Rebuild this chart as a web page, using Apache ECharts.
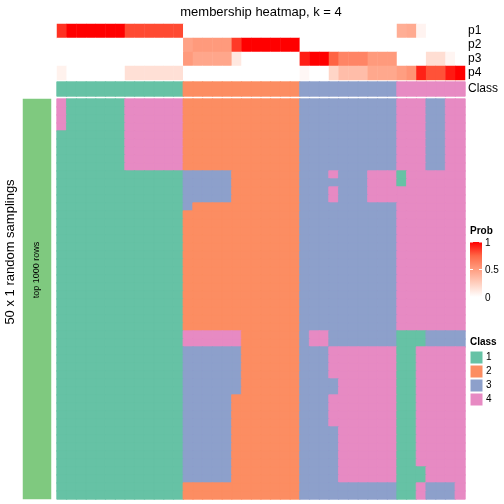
<!DOCTYPE html>
<html><head><meta charset="utf-8">
<script src="https://cdn.jsdelivr.net/npm/echarts@6/dist/echarts.min.js"></script>
<style>html,body{margin:0;padding:0;background:#fff}#c{width:504px;height:504px}</style>
</head><body><div id="c"></div>
<script>
// ---- data ----
const probRows = ['p1', 'p2', 'p3', 'p4'];
const p1 = [0.88,1,1,1,1,1,1,0.82,0.82,0.82,0.82,0.82,0.82, 0,0,0,0,0,0,0,0,0,0,0,0, 0,0,0,0,0,0,0,0,0,0, 0.42,0.44,0.06,0,0,0,0];
const p2 = [0,0,0,0,0,0,0,0,0,0,0,0,0, 0.48,0.52,0.52,0.52,0.52,0.86,1,1,1,1,1,1, 0,0,0,0,0,0,0,0,0,0, 0,0,0,0,0,0,0];
const p3 = [0,0,0,0,0,0,0,0,0,0,0,0,0, 0.52,0.46,0.46,0.46,0.46,0.12,0,0,0,0,0,0, 0.93,1,1,0.76,0.62,0.62,0.62,0.52,0.52,0.52, 0,0,0,0.17,0.17,0.05,0];
const p4 = [0.07,0,0,0,0,0,0,0.16,0.16,0.16,0.16,0.16,0.16, 0,0,0,0,0,0,0,0,0,0,0,0, 0.04,0,0,0.22,0.34,0.34,0.34,0.45,0.45,0.45, 0.5,0.55,0.92,0.8,0.8,0.94,1];
const classAnno = [1,1,1,1,1,1,1,1,1,1,1,1,1, 2,2,2,2,2,2,2,2,2,2,2,2, 3,3,3,3,3,3,3,3,3,3, 4,4,4,4,4,4,4];
// 50 random samplings (rows) x 42 samples (columns): class labels
const samplings = [
"4111111444444 222222222222 3333333333 4443344",
"4111111444444 222222222222 3333333333 4443344",
"4111111444444 222222222222 3333333333 4443344",
"4111111444444 222222222222 3333333333 4443344",
"1111111444444 222222222222 3333333333 4443344",
"1111111444444 222222222222 3333333333 4443344",
"1111111444444 222222222222 3333333333 4443344",
"1111111444444 222222222222 3333333333 4443344",
"1111111444444 222222222222 3333333333 4443344",
"1111111111111 333332222222 3334333444 1444444",
"1111111111111 333332222222 3333333444 1444444",
"1111111111111 333332222222 3334333444 4444444",
"1111111111111 333332222222 3334333444 4444444",
"1111111111111 322222222222 3333333333 4444444",
"1111111111111 222222222222 3333333333 4444444",
"1111111111111 222222222222 3333333333 4444444",
"1111111111111 222222222222 3333333333 4444444",
"1111111111111 222222222222 3333333333 4444444",
"1111111111111 222222222222 3333333333 4444444",
"1111111111111 222222222222 3333333333 4444444",
"1111111111111 222222222222 3333333333 4444444",
"1111111111111 222222222222 3333333333 4444444",
"1111111111111 222222222222 3333333333 4444444",
"1111111111111 222222222222 3333333333 4444444",
"1111111111111 222222222222 3333333333 4444444",
"1111111111111 222222222222 3333333333 4444444",
"1111111111111 222222222222 3333333333 4444444",
"1111111111111 222222222222 3333333333 4444444",
"1111111111111 222222222222 3333333333 4444444",
"1111111111111 444444222222 3443333333 1113333",
"1111111111111 444444222222 3443333333 1113333",
"1111111111111 333333222222 3334444444 1144444",
"1111111111111 333333222222 3334444444 1144444",
"1111111111111 333333222222 3334444444 1144444",
"1111111111111 333333222222 3334444444 1144444",
"1111111111111 333333222222 3333444444 1144444",
"1111111111111 333333222222 3333444444 1144444",
"1111111111111 333332222222 3334444444 1144444",
"1111111111111 333332222222 3334444444 1144444",
"1111111111111 333332222222 3334444444 1144444",
"1111111111111 333332222222 3334444444 1144444",
"1111111111111 333332222222 3333444444 1144444",
"1111111111111 333332222222 3333444444 1144444",
"1111111111111 333332222222 3333444444 1144444",
"1111111111111 333332222222 3333444444 1144444",
"1111111111111 333332222222 3333444444 1144444",
"1111111111111 333332222222 3333444444 1114444",
"1111111111111 333332222222 3333444444 1114444",
"1111111111111 222222222222 3333333333 1143334",
"1111111111111 222222222222 3333333333 1143334"
];
const classNames = ['1', '2', '3', '4'];
const classColors = ['#66C2A5', '#FC8D62', '#8DA0CB', '#E78AC3'];
const probTicks = ['1', '0.5', '0'];
const titleText = 'membership heatmap, k = 4';
const rowTitle = '50 x 1 random samplings';
const barLabel = 'top 1000 rows';

// ---- build ----
const cols = classAnno.map((_, i) => String(i));
const probSeries = [p1, p2, p3, p4];
const probData = [];
probSeries.forEach((arr, r) => arr.forEach((v, c) => probData.push([c, r, v])));
const classItem = (c, r, v) => ({value: [c, r, v], itemStyle: {borderColor: classColors[v - 1], borderWidth: 0.8}});
const annoData = classAnno.map((v, c) => classItem(c, 0, v));
const bodyRows = samplings.map((s, i) => String(i));
const bodyData = [];
samplings.forEach((s, r) => {
  const digits = s.replace(/\s+/g, '');
  for (let c = 0; c < digits.length; c++) bodyData.push(classItem(c, r, Number(digits[c])));
});

const FONT = '"Liberation Sans", Arial, Helvetica, sans-serif';
const hidden = {show: false};
function xCat(gi) {
  return {type: 'category', gridIndex: gi, data: cols, show: false};
}
const chart = echarts.init(document.getElementById('c'), null, {renderer: 'canvas'});
const legendX = 470;
const gradTop = 242, gradH = 55;
const classTop = 351, sq = 13, sqStep = 14;

const graphics = [
  {type: 'text', x: 261, y: 12, style: {text: titleText, font: '13px ' + FONT, fill: '#000', textAlign: 'center', textVerticalAlign: 'middle', verticalAlign: 'middle'}},
  {type: 'text', x: 10, y: 252, rotation: Math.PI / 2, style: {text: rowTitle, font: '13px ' + FONT, fill: '#000', textAlign: 'center', textVerticalAlign: 'middle', verticalAlign: 'middle'}},
  {type: 'text', x: 37, y: 270, rotation: Math.PI / 2, z: 10, style: {text: barLabel, font: '9px ' + FONT, fill: '#000', textAlign: 'center', textVerticalAlign: 'middle', verticalAlign: 'middle'}},
  // Prob legend
  {type: 'text', x: legendX, y: 231, style: {text: 'Prob', font: 'bold 10px ' + FONT, fill: '#000', textAlign: 'left', textVerticalAlign: 'middle', verticalAlign: 'middle'}},
  {type: 'rect', shape: {x: legendX, y: gradTop, width: 12, height: gradH}, style: {fill: {type: 'linear', x: 0, y: 0, x2: 0, y2: 1, colorStops: [
    {offset: 0, color: '#FF0000'}, {offset: 0.25, color: '#FF6746'}, {offset: 0.5, color: '#FF9E81'}, {offset: 0.75, color: '#FFCFBF'}, {offset: 1, color: '#FFFFFF'}]}}},
];
probTicks.forEach((t, i) => {
  const y = gradTop + i * gradH / 2;
  graphics.push({type: 'line', shape: {x1: legendX, y1: y, x2: legendX + 3, y2: y}, style: {stroke: '#fff', lineWidth: 1}});
  graphics.push({type: 'line', shape: {x1: legendX + 9, y1: y, x2: legendX + 12, y2: y}, style: {stroke: '#fff', lineWidth: 1}});
  graphics.push({type: 'text', x: legendX + 15, y: y + 1, style: {text: t, font: '10px ' + FONT, fill: '#000', textAlign: 'left', textVerticalAlign: 'middle', verticalAlign: 'middle'}});
});
graphics.push({type: 'text', x: legendX, y: 342, style: {text: 'Class', font: 'bold 10px ' + FONT, fill: '#000', textAlign: 'left', textVerticalAlign: 'middle', verticalAlign: 'middle'}});
classNames.forEach((n, i) => {
  const y = classTop + i * sqStep;
  graphics.push({type: 'rect', shape: {x: legendX, y: y, width: sq, height: sq}, style: {fill: classColors[i], stroke: '#fff', lineWidth: 1}});
  graphics.push({type: 'text', x: legendX + 16, y: y + sq / 2, style: {text: n, font: '10px ' + FONT, fill: '#000', textAlign: 'left', textVerticalAlign: 'middle', verticalAlign: 'middle'}});
});

const yLab = {show: true, interval: 0, fontSize: 12, color: '#000', fontFamily: FONT, margin: 3};
chart.setOption({
  animation: false,
  backgroundColor: '#fff',
  grid: [
    {left: 57, top: 24, width: 408, height: 56},
    {left: 57, top: 82, width: 408, height: 14},
    {left: 57, top: 99, width: 408, height: 400},
    {left: 23, top: 99, width: 28, height: 400}
  ],
  xAxis: [xCat(0), xCat(1), xCat(2), {type: 'category', gridIndex: 3, data: ['a'], show: false}],
  yAxis: [
    {type: 'category', gridIndex: 0, data: probRows, inverse: true, position: 'right', axisLine: hidden, axisTick: hidden, splitLine: hidden, axisLabel: yLab},
    {type: 'category', gridIndex: 1, data: ['Class'], position: 'right', axisLine: hidden, axisTick: hidden, splitLine: hidden, axisLabel: yLab},
    {type: 'category', gridIndex: 2, data: bodyRows, inverse: true, show: false},
    {type: 'category', gridIndex: 3, data: ['a'], show: false}
  ],
  visualMap: [
    {type: 'continuous', min: 0, max: 1, seriesIndex: 0, show: false, dimension: 2,
     inRange: {color: ['#FFFFFF', '#FFCFBF', '#FF9E81', '#FF6746', '#FF0000']}},
    {type: 'piecewise', seriesIndex: [1, 2, 3], show: false, dimension: 2,
     pieces: [{value: 1, color: classColors[0]}, {value: 2, color: classColors[1]}, {value: 3, color: classColors[2]}, {value: 4, color: classColors[3]}, {value: 5, color: '#7FC97F'}]}
  ],
  series: [
    {type: 'heatmap', xAxisIndex: 0, yAxisIndex: 0, data: probData, itemStyle: {borderWidth: 0}, emphasis: {disabled: true}},
    {type: 'heatmap', xAxisIndex: 1, yAxisIndex: 1, data: annoData, emphasis: {disabled: true}},
    {type: 'heatmap', xAxisIndex: 2, yAxisIndex: 2, data: bodyData, emphasis: {disabled: true}},
    {type: 'heatmap', xAxisIndex: 3, yAxisIndex: 3, data: [[0, 0, 5]], itemStyle: {borderWidth: 0}, emphasis: {disabled: true}}
  ],
  graphic: graphics
});
</script></body></html>
